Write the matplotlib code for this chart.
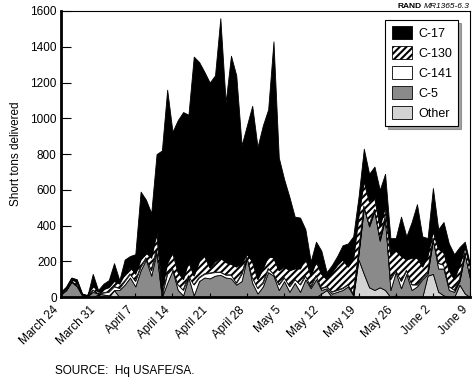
import numpy as np
import matplotlib
matplotlib.use("Agg")
import matplotlib.pyplot as plt
from matplotlib.patches import Patch

plt.rcParams['font.family'] = ['Liberation Sans', 'DejaVu Sans']
plt.rcParams['hatch.linewidth'] = 1.5

# daily deliveries, March 24 .. June 9 (short tons)
other = [0, 0, 0, 0, 0, 0, 0, 15, 0, 0, 40, 0, 0, 0, 0, 0, 0, 0, 0, 0,
         0, 0, 0, 0, 0, 0, 0, 0, 0, 0, 0, 0, 0, 0, 0, 0, 0, 0, 0, 0,
         0, 0, 0, 0, 0, 0, 0, 0, 0, 20, 40, 0, 0, 0, 0, 0, 210, 130, 55, 40,
         55, 40, 0, 10, 0, 0, 0, 0, 0, 120, 130, 30, 10, 0, 0, 70, 20, 0]
c5 = [15, 40, 85, 60, 10, 5, 30, 5, 15, 10, 0, 40, 70, 110, 60, 150, 210, 120, 250, 0,
      80, 150, 40, 10, 110, 10, 90, 110, 105, 120, 125, 110, 105, 70, 90, 220, 80, 20, 60, 140,
      120, 40, 90, 30, 80, 30, 100, 50, 100, 20, 10, 20, 30, 40, 60, 10, 30, 370, 340, 440,
      260, 400, 40, 130, 50, 130, 40, 60, 100, 10, 190, 130, 150, 40, 30, 20, 220, 100]
c141 = [0, 0, 5, 5, 0, 0, 10, 0, 10, 20, 20, 10, 20, 20, 30, 20, 10, 30, 20, 10,
        50, 10, 30, 30, 10, 60, 20, 20, 30, 20, 15, 15, 20, 10, 40, 5, 30, 30, 20, 20,
        10, 30, 20, 30, 20, 40, 20, 10, 20, 10, 10, 10, 10, 10, 10, 10, 10, 10, 10, 10,
        10, 10, 60, 10, 40, 20, 30, 10, 10, 10, 10, 30, 20, 20, 10, 10, 10, 10]
c130 = [10, 10, 15, 15, 5, 5, 25, 10, 20, 25, 30, 25, 40, 40, 40, 40, 30, 70, 90, 30,
        60, 90, 70, 60, 80, 50, 90, 100, 30, 60, 80, 70, 60, 90, 60, 15, 90, 50, 80, 70,
        90, 80, 60, 90, 60, 90, 100, 60, 80, 80, 40, 110, 140, 160, 100, 190, 200, 140, 130, 70,
        70, 55, 140, 110, 140, 60, 150, 150, 60, 90, 40, 80, 70, 90, 60, 80, 30, 60]
c17 = [5, 10, 5, 20, 5, 0, 65, 10, 30, 40, 100, 20, 80, 60, 110, 380, 295, 250, 440, 780,
       970, 675, 850, 935, 820, 1225, 1115, 1030, 1035, 1040, 1340, 895, 1165, 1070, 660, 720, 870, 740, 800, 820,
       1210, 630, 490, 410, 290, 285, 160, 80, 110, 130, 40, 40, 50, 80, 130, 130, 110, 180, 155, 170,
       205, 185, 90, 70, 220, 130, 200, 300, 170, 100, 240, 110, 170, 150, 140, 100, 30, 10]

tick_labels = ["March 24", "March 31", "April 7", "April 14", "April 21", "April 28",
               "May 5", "May 12", "May 19", "May 26", "June 2", "June 9"]
yticks = [0, 200, 400, 600, 800, 1000, 1200, 1400, 1600]

days = np.arange(len(c17))

fig = plt.figure(figsize=(4.72, 3.79), dpi=100)
ax = fig.add_axes([0.129, 0.216, 0.867, 0.755])

layers = [other, c5, c141, c130, c17]
colors = ["#d3d3d3", "#8a8a8a", "white", "white", "black"]
hatches = [None, None, None, "/////", None]
names = ["Other", "C-5", "C-141", "C-130", "C-17"]

base = np.zeros(len(days))
for vals, col, h in zip(layers, colors, hatches):
    top = base + np.array(vals)
    ax.fill_between(days, base, top, facecolor=col, edgecolor="black",
                    hatch=h, linewidth=0.6)
    base = top

ax.set_xlim(0, 77)
ax.set_ylim(0, 1600)
ax.set_yticks(yticks)
ax.set_xticks(np.arange(0, 78, 7))
ax.set_xticklabels(tick_labels, rotation=45, ha="right")
ax.tick_params(axis="both", direction="in", labelsize=8.5, width=0.8)
ax.tick_params(axis="y", length=7, pad=3)
ax.tick_params(axis="x", length=3, pad=5)
ax.spines["left"].set_linewidth(2)
ax.spines["bottom"].set_linewidth(2)
ax.spines["top"].set_linewidth(0.8)
ax.spines["right"].set_linewidth(0.8)
ax.set_ylabel("Short tons delivered", fontsize=8.5, labelpad=6)

handles = [Patch(facecolor=c, edgecolor="black", hatch=h, linewidth=0.6)
           for c, h in zip(colors, hatches)]
leg = ax.legend(handles[::-1], names[::-1], loc="upper right",
                bbox_to_anchor=(0.971, 0.968), borderaxespad=0, fontsize=9,
                frameon=True, fancybox=False, shadow=True, edgecolor="black",
                handlelength=1.6, handleheight=1.2, labelspacing=0.5,
                borderpad=0.5, handletextpad=0.5)
leg.get_frame().set_linewidth(0.8)

fig.text(0.995, 0.984, "MR1365-6.3", fontsize=6, style="italic", ha="right", va="center")
fig.text(0.894, 0.984, "RAND", fontsize=6, fontweight="bold", ha="right", va="center")
fig.text(0.117, 0.022, "SOURCE:  Hq USAFE/SA.", fontsize=8.5, ha="left", va="center")

fig.savefig("out.png", dpi=100)
